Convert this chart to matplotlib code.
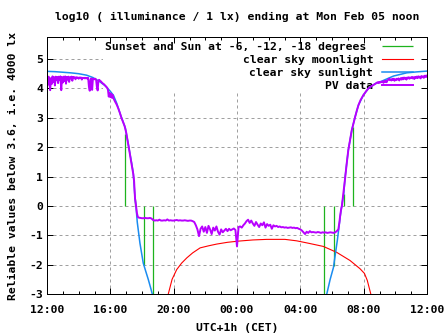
import numpy as np
import matplotlib
matplotlib.use("Agg")
import matplotlib.pyplot as plt
from matplotlib.patches import Rectangle

# ---------------- data (hours after Sun 12:00 CET) ----------------
x_tick_hours = [0, 4, 8, 12, 16, 20, 24]
x_tick_labels = ["12:00", "16:00", "20:00", "00:00", "04:00", "08:00", "12:00"]
y_ticks = [-3, -2, -1, 0, 1, 2, 3, 4, 5]

# sunset/sunrise and sun at -6, -12, -18 degrees (impulses from 0)
sun_event_hours = [4.95, 5.56, 6.15, 6.72, 17.52, 18.15, 18.74, 19.35]
sun_event_values = [2.45, 0.22, -2.02, -3.3, -3.3, -2.04, 0.42, 2.70]

# clear sky moonlight
moon_hours = [7.55, 7.66, 7.9, 8.19, 8.5, 8.83, 9.2, 9.67, 10.2, 10.72, 11.4,
              12.08, 13.0, 13.88, 15.03, 15.77, 16.5, 17.45, 18.29, 19.14,
              19.77, 20.05, 20.23, 20.45, 20.55]
moon_values = [-3.5, -3.0, -2.5, -2.17, -1.95, -1.77, -1.60, -1.43, -1.36,
               -1.30, -1.24, -1.20, -1.16, -1.14, -1.14, -1.19, -1.27, -1.38,
               -1.58, -1.86, -2.14, -2.30, -2.54, -3.0, -3.4]

# clear sky sunlight
sun_hours = [0.0, 0.5, 1.0, 1.5, 2.0, 2.5, 2.9, 3.3, 3.7, 4.0, 4.2, 4.4, 4.65,
             4.95, 5.2, 5.35, 5.45, 5.56, 5.62, 5.70, 5.87, 6.08, 6.25, 6.4,
             6.55, 6.65, 6.8,
             17.55, 17.67, 17.88, 18.09, 18.19, 18.34, 18.47, 18.57, 18.74,
             18.83, 19.03, 19.25, 19.46, 19.67, 19.98, 20.30, 20.72, 21.04,
             21.24, 21.88, 22.72, 23.3, 24.0]
sun_values = [4.58, 4.57, 4.55, 4.53, 4.50, 4.45, 4.37, 4.24, 4.08, 3.90, 3.76,
              3.50, 3.09, 2.65, 1.90, 1.45, 1.11, 0.25, 0.0, -0.55, -1.27,
              -1.95, -2.25, -2.51, -2.80, -3.0, -3.4,
              -3.4, -3.0, -2.51, -2.10, -1.72, -1.16, -0.59, -0.14, 0.40,
              0.99, 1.90, 2.58, 3.03, 3.43, 3.77, 4.00, 4.16, 4.22,
              4.27, 4.42, 4.53, 4.56, 4.59]

# PV data
pv_afternoon_start, pv_afternoon_step = 0.0, 0.05
pv_afternoon = [4.38, 4.12, 4.40, 4.20, 3.94, 4.35, 4.15, 4.41, 4.22, 4.38,
                4.10, 4.40, 4.28, 4.39, 4.18, 4.40, 4.30, 4.41, 3.94, 4.38,
                4.20, 4.40, 4.25, 4.41, 4.16, 4.39, 4.30, 4.40, 4.22, 4.38,
                4.34, 4.40, 4.26, 4.39, 4.36, 4.38, 4.31, 4.38, 4.36, 4.37,
                4.33, 4.37, 4.36, 4.37, 4.30, 4.36, 4.35, 4.36, 4.34, 4.36,
                4.35, 4.33, 4.36, 4.05, 3.92, 4.30, 4.34, 3.95, 4.33, 4.32,
                4.31, 4.33, 4.30, 4.05, 3.93, 4.28, 4.29, 4.26, 4.24]
pv_dusk_hours = [3.5, 3.6, 3.7, 3.8, 3.85, 3.9, 3.95, 4.0, 4.05, 4.1, 4.15,
                 4.2, 4.3, 4.4, 4.5, 4.6, 4.7, 4.8, 4.9, 5.0, 5.1, 5.2, 5.3,
                 5.4, 5.45, 5.5, 5.56, 5.62, 5.68, 5.74, 5.8]
pv_dusk = [4.18, 4.14, 4.08, 4.02, 3.95, 3.72, 3.85, 3.70, 3.82, 3.68, 3.78,
           3.66, 3.55, 3.45, 3.32, 3.17, 3.00, 2.86, 2.72, 2.50, 2.20, 1.88,
           1.55, 1.25, 1.08, 0.85, 0.25, 0.02, -0.25, -0.38, -0.40]
pv_night_start, pv_night_step = 5.9, 0.1
pv_night = [-0.41, -0.42, -0.42, -0.41, -0.42, -0.42, -0.41, -0.43,
            -0.48, -0.50, -0.49, -0.50, -0.47, -0.50, -0.50, -0.49, -0.50,
            -0.46, -0.50, -0.49, -0.50, -0.50, -0.49, -0.48, -0.50, -0.49,
            -0.50, -0.50, -0.49, -0.50, -0.51, -0.50, -0.50, -0.52, -0.55,
            -0.66, -0.80, -1.03, -0.78, -0.70, -0.88, -0.72, -0.92, -0.68,
            -0.80, -0.96, -0.74, -0.84, -0.70, -0.88, -0.98, -0.80, -0.90,
            -0.84, -0.78, -0.86, -0.78, -0.83, -0.80, -0.77, -0.82,
            -1.38, -0.72, -0.70, -0.74, -0.66, -0.60, -0.52, -0.47, -0.58,
            -0.50, -0.60, -0.68, -0.55, -0.64, -0.72, -0.60, -0.66, -0.56,
            -0.74, -0.62, -0.68, -0.64, -0.78, -0.66, -0.70, -0.68, -0.72,
            -0.70, -0.73, -0.72, -0.74, -0.73, -0.75, -0.74, -0.73, -0.75,
            -0.74, -0.76, -0.75, -0.78, -0.80, -0.84, -0.90, -0.96, -0.88,
            -0.92, -0.86, -0.90, -0.89, -0.90, -0.91, -0.89, -0.90, -0.92,
            -0.90, -0.91, -0.90, -0.92, -0.91, -0.90, -0.91, -0.92, -0.90,
            -0.86]
pv_dawn_hours = [18.4, 18.47, 18.51, 18.57, 18.62, 18.72, 18.83, 18.93,
                 19.03, 19.14, 19.25, 19.35, 19.46, 19.57, 19.67, 19.8,
                 19.98, 20.15, 20.30, 20.5, 20.72, 20.85]
pv_dawn = [-0.80, -0.55, -0.36, -0.14, -0.02, 0.43, 0.95, 1.45, 1.90, 2.25,
           2.58, 2.80, 3.03, 3.25, 3.43, 3.60, 3.77, 3.90, 4.00, 4.08, 4.15,
           4.20]
pv_morning_start, pv_morning_step = 20.9, 0.05
pv_morning = [4.21, 4.18, 4.22, 4.20, 4.23, 4.21, 4.24, 4.19, 4.25, 4.22,
              4.26, 4.21, 4.27, 4.30, 4.33, 4.28, 4.31, 4.27, 4.32, 4.29,
              4.33, 4.26, 4.31, 4.28, 4.33, 4.30, 4.34, 4.27, 4.32, 4.35,
              4.30, 4.36, 4.31, 4.37, 4.33, 4.36, 4.30, 4.37, 4.34, 4.38,
              4.33, 4.37, 4.35, 4.39, 4.34, 4.38, 4.32, 4.39, 4.36, 4.40,
              4.35, 4.41, 4.37, 4.40, 4.34, 4.42, 4.38, 4.41, 4.36, 4.43,
              4.39, 4.44, 4.40]

pv_hours = np.concatenate([
    pv_afternoon_start + pv_afternoon_step * np.arange(len(pv_afternoon)),
    pv_dusk_hours,
    pv_night_start + pv_night_step * np.arange(len(pv_night)),
    pv_dawn_hours,
    pv_morning_start + pv_morning_step * np.arange(len(pv_morning)),
])
pv_values = np.concatenate([pv_afternoon, pv_dusk, pv_night, pv_dawn, pv_morning])

# ---------------- style ----------------
plt.rcParams["font.family"] = ["DejaVu Sans Mono", "DejaVu Sans"]
plt.rcParams["font.weight"] = "bold"
plt.rcParams["axes.unicode_minus"] = False
FS = 8.2
GREEN = "#1db31d"
RED = "#ff0000"
BLUE = "#1a8cf0"
PURPLE = "#b800ff"

W, H = 447, 335
fig = plt.figure(figsize=(W / 100, H / 100), dpi=100)
L, R, T, B = 47, 427, 37, 294
ax = fig.add_axes([L / W, 1 - B / H, (R - L) / W, (B - T) / H])
ax.set_xlim(0, 24)
ax.set_ylim(-3, 5.75)

ax.set_xticks(x_tick_hours)
ax.set_xticklabels(x_tick_labels, fontsize=FS, fontweight="bold")
ax.set_xticks(np.arange(0, 25, 1), minor=True)
ax.set_yticks(y_ticks)
ax.set_yticklabels([str(v) for v in y_ticks], fontsize=FS, fontweight="bold")
ax.tick_params(which="both", direction="in", top=True, right=True, width=0.72,
               color="black")
ax.tick_params(which="major", length=4.3)
ax.tick_params(which="minor", length=2.2)
ax.tick_params(axis="x", which="major", pad=8)
ax.tick_params(axis="y", which="major", pad=3)
for s in ax.spines.values():
    s.set_linewidth(0.72)
    s.set_zorder(6)

# grid (dotted grey) below everything
for xv in x_tick_hours[1:-1]:
    ax.axvline(xv, color="#a0a0a0", lw=0.72, ls=(0, (3, 3)), zorder=0.5)
for yv in y_ticks[1:]:
    ax.axhline(yv, color="#a0a0a0", lw=0.72, ls=(0, (3, 3)), zorder=0.5)

h_green = ax.vlines(sun_event_hours, 0, sun_event_values, color=GREEN, lw=0.9,
                    zorder=2)
h_red, = ax.plot(moon_hours, moon_values, color=RED, lw=0.8, zorder=3)
h_blue, = ax.plot(sun_hours, sun_values, color=BLUE, lw=1.1, zorder=4)
h_pv, = ax.plot(pv_hours, pv_values, color=PURPLE, lw=1.4, zorder=5)

leg = ax.legend([h_green, h_red, h_blue, h_pv],
                ["Sunset and Sun at -6, -12, -18 degrees ",
                 "clear sky moonlight", "clear sky sunlight", "PV data"],
                loc="upper right",
                bbox_to_anchor=((413 - L) / (R - L), (B - 41.5) / (B - T)),
                markerfirst=False, frameon=False, borderpad=0.0,
                borderaxespad=0.0, handlelength=2.7, handletextpad=0.8,
                labelspacing=0.27, fontsize=FS,
                prop={"family": "DejaVu Sans Mono", "weight": "bold", "size": FS})
leg.set_zorder(1.5)

# opaque key background (hides grid behind the key), derived from key extent
fig.canvas.draw()
bb = leg.get_window_extent().transformed(ax.transAxes.inverted())
pad = 2.0 / (R - L)
rect = Rectangle((bb.x0 - pad, bb.y0 - 2.0 / (B - T)), 1 - (bb.x0 - pad),
                 1 - (bb.y0 - 2.0 / (B - T)), transform=ax.transAxes,
                 facecolor="white", edgecolor="none", zorder=1)
ax.add_patch(rect)

fig.text(237 / W, 1 - 17.3 / H,
         "log10 ( illuminance / 1 lx) ending at Mon Feb 05 noon",
         ha="center", va="center", fontsize=FS, fontweight="bold")
fig.text(13 / W, 1 - 166 / H, "Reliable values below 3.6, i.e. 4000 lx",
         rotation=90, ha="center", va="center", fontsize=FS, fontweight="bold")
fig.text(237 / W, 1 - 328 / H, "UTC+1h (CET)", ha="center", va="center",
         fontsize=FS, fontweight="bold")

fig.savefig("out.png", dpi=100)
